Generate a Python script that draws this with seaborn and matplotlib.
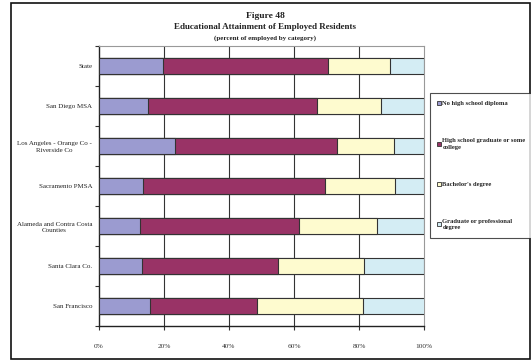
import matplotlib
matplotlib.use("Agg")
import matplotlib.pyplot as plt
import seaborn as sns
import pandas as pd
import numpy as np
from matplotlib.patches import Rectangle
from matplotlib.lines import Line2D

categories = ["State", "San Diego MSA", "Los Angeles - Orange Co -\nRiverside Co",
              "Sacramento PMSA", "Alameda and Contra Costa\nCounties",
              "Santa Clara Co.", "San Francisco"]
no_hs = [19.6, 15.2, 23.4, 13.4, 12.6, 13.3, 15.7]
hs_some = [51.0, 51.8, 49.7, 56.2, 49.0, 41.7, 32.9]
bachelor = [18.9, 19.8, 17.8, 21.4, 24.0, 26.4, 32.5]
graduate = [10.5, 13.2, 9.1, 9.0, 14.4, 18.6, 19.4]
series_names = ["No high school diploma", "High school graduate or some\ncollege",
                "Bachelor's degree", "Graduate or professional\ndegree"]
colors = ["#9b9bd0", "#993366", "#fefbcf", "#d4edf4"]
x_ticks = [0, 20, 40, 60, 80, 100]
x_labels = ["0%", "20%", "40%", "60%", "80%", "100%"]

sns.set_theme(style="white")
plt.rcParams['font.family'] = ['Liberation Serif', 'DejaVu Serif']

df = pd.DataFrame({"cat": categories, "s1": no_hs, "s2": hs_some, "s3": bachelor, "s4": graduate})
df["c1"] = df["s1"]
df["c2"] = df["c1"] + df["s2"]
df["c3"] = df["c2"] + df["s3"]
df["c4"] = df["c3"] + df["s4"]

fig = plt.figure(figsize=(5.31, 3.6), dpi=100)
ax = fig.add_axes([99/531, 1-326/360, 325/531, 280/360])

for col, c in zip(["c4", "c3", "c2", "c1"], colors[::-1]):
    sns.barplot(data=df, x=col, y="cat", order=categories, color=c, ax=ax,
                width=0.4, edgecolor="#333333", linewidth=0.8, saturation=1, zorder=3)

ax.set_xlim(0, 100)
ax.set_ylim(6.5, -0.5)
ax.set_xlabel("")
ax.set_ylabel("")
ax.set_xticks(x_ticks)
ax.set_xticklabels(x_labels, fontsize=5.3, color="#333333")
for x in x_ticks[1:-1]:
    ax.axvline(x, color="#333333", lw=0.8, zorder=1)
ax.set_yticks(range(len(categories)))
ax.set_yticklabels(categories, fontsize=5.0, color="#222222")
for lab in ax.get_yticklabels():
    lab.set_multialignment("center")
    lab.set_linespacing(1.35)
ax.set_yticks(np.arange(-0.5, 7, 1), minor=True)
ax.tick_params(axis="y", which="major", length=0, pad=5)
ax.tick_params(axis="y", which="minor", length=3, width=0.8, color="#333333", direction="out", left=True)
ax.tick_params(axis="x", which="major", length=3, width=0.8, color="#333333", direction="out", bottom=True, pad=10)
for s in ["left", "bottom"]:
    ax.spines[s].set_color("#222222")
    ax.spines[s].set_linewidth(1.0)
for s in ["top", "right"]:
    ax.spines[s].set_color("#999999")
    ax.spines[s].set_linewidth(0.8)

handles = [Line2D([0], [0], marker="s", linestyle="none", markersize=3.3,
                  markerfacecolor=c, markeredgecolor="#333333", markeredgewidth=0.6)
           for c in colors]
leg = fig.legend(handles, series_names, loc="upper left",
                 bbox_to_anchor=(430/531, 1-93/360), prop={"size": 4.7, "weight": "bold"},
                 frameon=True, fancybox=False, edgecolor="#222222", labelspacing=4.9,
                 handlelength=0.5, handletextpad=0.2, borderpad=1.2, borderaxespad=0)
leg.get_frame().set_linewidth(0.8)
for t in leg.get_texts():
    t.set_linespacing(1.3)

fig.text(265/531, 1-16/360, "Figure 48", ha="center", va="center", fontsize=6.8, weight="bold", color="#222222")
fig.text(265/531, 1-27/360, "Educational Attainment of Employed Residents", ha="center", va="center",
         fontsize=6.5, weight="bold", color="#222222")
fig.text(265/531, 1-38/360, "(percent of employed by category)", ha="center", va="center",
         fontsize=5.0, weight="bold", color="#222222")

fig.patches.append(Rectangle((11/531, 1/360), 519/531, 356/360, transform=fig.transFigure,
                             fill=False, edgecolor="#111111", linewidth=1.2))

fig.savefig("out.png", dpi=100, facecolor="white")
